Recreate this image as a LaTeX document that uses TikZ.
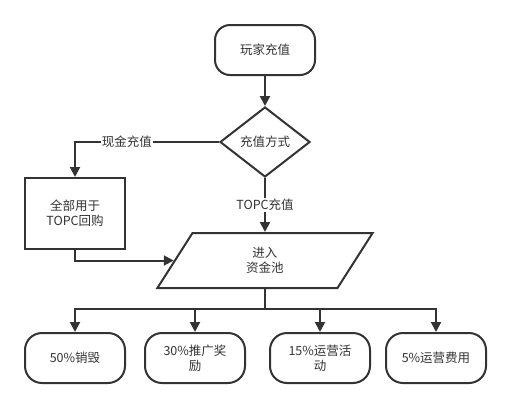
\documentclass[tikz,border=0pt]{standalone}
\usepackage{fontspec}
\setmainfont{Noto Sans CJK SC}
\usetikzlibrary{shapes.geometric}
\usetikzlibrary{positioning}
\usetikzlibrary{arrows.meta}
\definecolor{ink}{HTML}{333333}
\tikzset{
    mystart/.style = {rectangle, rounded corners=15pt, line width=2pt, draw=ink, align=center, fill=white, text=ink, minimum width=100pt, minimum height=50pt},
    mydecide/.style = {diamond, aspect=1.29, line width=2pt, draw=ink, align=center, fill=white, text=ink, inner sep=0pt, minimum width=90pt, minimum height=70pt},
    mybox/.style = {rectangle, line width=2pt, draw=ink, align=center, fill=white, text=ink, minimum width=100pt, minimum height=71pt},
    mypool/.style = {trapezium, trapezium left angle=72, trapezium right angle=108, trapezium stretches=true, line width=2pt, draw=ink, align=center, fill=white, text=ink, minimum width=216pt, minimum height=55pt},
    myend/.style = {rectangle, rounded corners=17pt, line width=2pt, draw=ink, align=center, fill=white, text=ink, minimum width=100pt, minimum height=50pt},
    mylabel/.style = {fill=white, inner sep=1pt, text=ink},
    edgen/.style = {-{Triangle[length=10pt,width=10pt]}, line width=2pt, ink}, % arrow
    edgel/.style = {-, line width=2pt, ink} % plain
}

\begin{document}
\begin{tikzpicture}[x=1pt, y=-1pt, font=\fontsize{12.5}{15}\selectfont]
  \useasboundingbox[fill=white] (0,0) rectangle (511,408);

  \node[mystart] (play) at (265,50) {玩家充值};
  \node[mydecide, below=30pt of play] (mode) {充值方式};
  \node[mybox] (buyback) at (75,213.5) {全部用于\\TOPC回购};
  \node[mypool, below=54pt of mode] (pool) {进入\\资金池};
  \coordinate (split) at (265,309);
  \node[myend] (burn) at (75,358) {50\%销毁};
  \node[myend] (promo) at (195,358) {30\%推广奖\\励};
  \node[myend] (event) at (320,358) {15\%运营活\\动};
  \node[myend] (cost) at (436,358) {5\%运营费用};

  \draw[edgen] (play) -- (mode);
  \draw[edgen] (mode.west) -| node[mylabel, pos=0.32] {现金充值} (buyback.north);
  \draw[edgen] (mode.south) -- node[mylabel] {TOPC充值} (pool.north);
  \draw[edgen] (buyback.south) |- (pool.west);
  \draw[edgel] (pool.south) -- (split);
  \foreach \n in {burn,promo,event,cost}
    \draw[edgen] (split) -| (\n.north);
\end{tikzpicture}
\end{document}
